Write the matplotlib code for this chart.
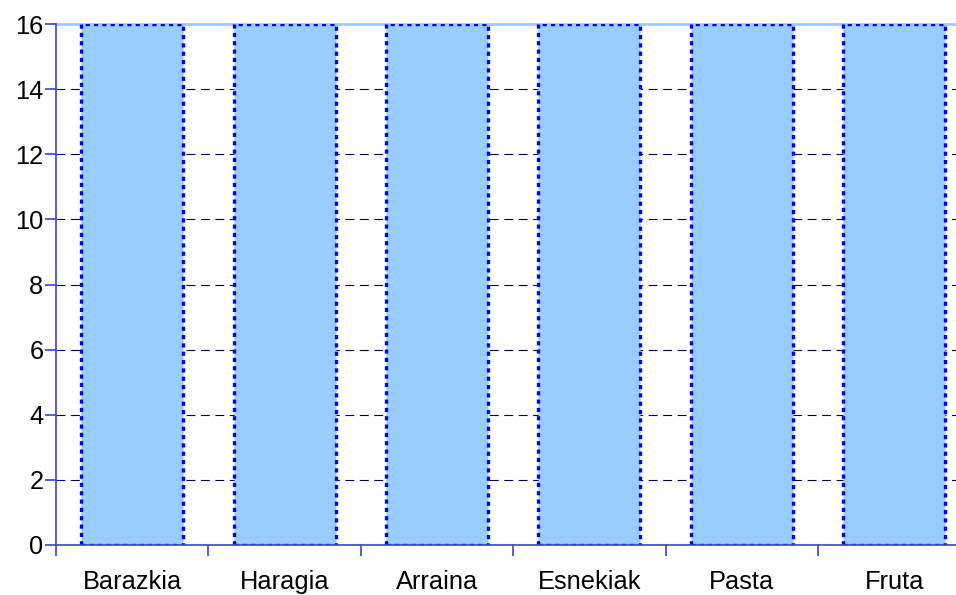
import matplotlib
matplotlib.use("Agg")
import matplotlib.pyplot as plt
import numpy as np

categories = ["Barazkia", "Haragia", "Arraina", "Esnekiak", "Pasta", "Fruta"]
values = [16, 16, 16, 16, 16, 16]
yticks = [0, 2, 4, 6, 8, 10, 12, 14, 16]

plt.rcParams['font.family'] = ['Liberation Sans', 'DejaVu Sans']

W, H = 956, 595
fig = plt.figure(figsize=(W / 100, H / 100), dpi=100)
left, right, top, bottom = 56, 956, 24, 545
ax = fig.add_axes([left / W, 1 - bottom / H, (right - left) / W, (bottom - top) / H])

cat_w = 152.4
x = np.arange(len(categories))
ax.set_xlim(-0.5, -0.5 + (right - left) / cat_w)
ax.set_ylim(0, 16)

# gridlines
for yv in yticks[1:-1]:
    ax.axhline(yv, color='#000066', lw=0.8, ls=(0, (8, 5)), zorder=0)
ax.axhline(16, color='#99CCFF', lw=2, zorder=0.5, clip_on=False)

ax.bar(x, values, width=0.67, color='#99CCFF', edgecolor='#0000FF',
       linewidth=2.4, linestyle=(0, (1.25, 1.25)), zorder=2)

for s in ['top', 'right']:
    ax.spines[s].set_visible(False)
for s in ['left', 'bottom']:
    ax.spines[s].set_color('#3344DD')
    ax.spines[s].set_linewidth(1.2)
    ax.spines[s].set_zorder(3)

fs = 18.3
ax.set_yticks(yticks)
ax.set_yticklabels([str(v) for v in yticks], fontsize=fs)
ax.set_xticks(np.arange(-0.5, len(categories) - 0.5, 1.0))
ax.set_xticklabels([])
ax.set_xticks(x, minor=True)
ax.set_xticklabels(categories, minor=True, fontsize=fs)
ax.tick_params(axis='x', which='minor', length=0, pad=18)
ax.tick_params(axis='x', which='major', direction='out', length=8, color='#3344DD', width=1.2)
ax.tick_params(axis='y', direction='out', length=8, color='#3344DD', width=1.2, pad=1)

fig.savefig("out.png", dpi=100)
